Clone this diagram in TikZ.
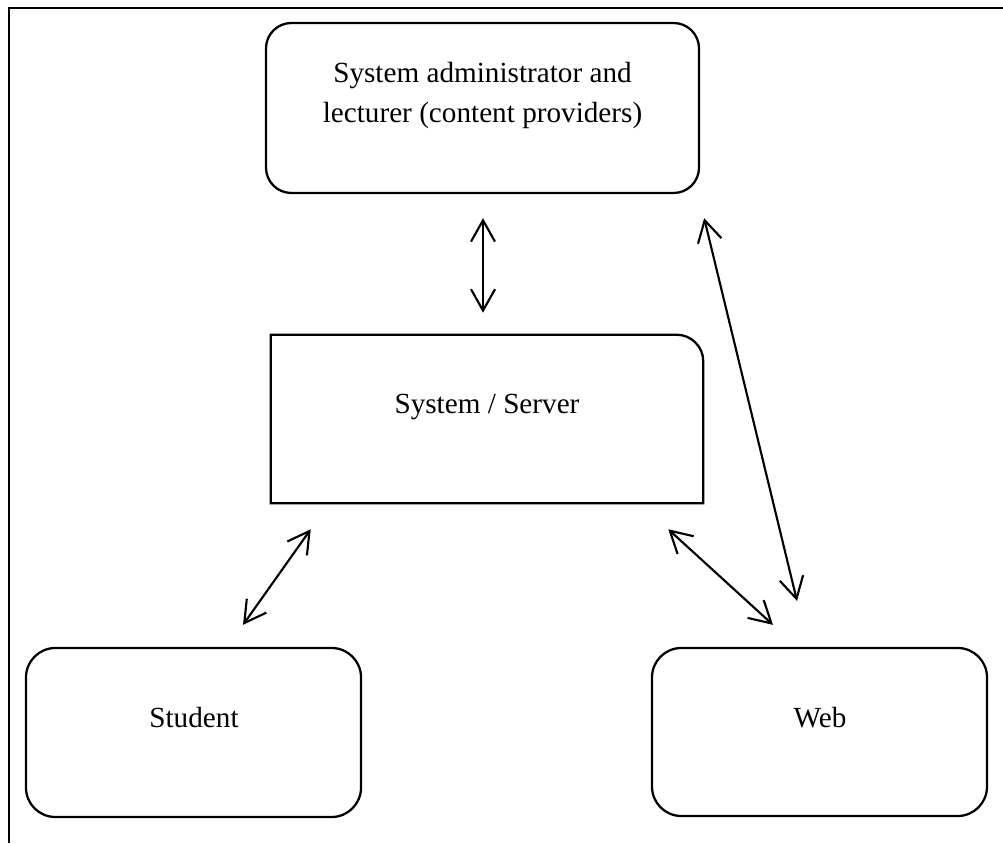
\documentclass[tikz,border=0pt]{standalone}
\usepackage{fontspec}
\setmainfont{Liberation Serif}
\usetikzlibrary{arrows.meta,calc}
\begin{document}
\begin{tikzpicture}[x=0.75pt,y=0.75pt,
  box/.style={draw=black,line width=1.7pt,minimum width=#1,inner sep=0pt},
  lbl/.style={font=\fontsize{21.9}{30}\selectfont,inner sep=0pt,align=center},
  arr/.style={line width=1.6pt,{Straight Barb[length=16pt,width=18pt]}-{Straight Barb[length=16pt,width=18pt]}},
  frame/.style={line width=1.1pt,draw=black}]
\useasboundingbox (0,0) rectangle (1003,843);
% frame
\coordinate (ftl) at (9,835);
\coordinate (ftr) at (1003,835);
\coordinate (fbl) at (9,0);
\draw[frame] (ftr) -- (ftl) -- (fbl);
% boxes
\node[box=324.75pt,minimum height=127.5pt,rounded corners=19pt] (admin) at (482.5,735) {};
\node[inner sep=0pt,minimum width=324pt,minimum height=126pt] (srv) at (487,424) {};
\draw[line width=1.7pt] (srv.south west) -- (srv.north west) -- ([xshift=-20pt]srv.north east)
  arc[start angle=90,end angle=0,radius=20pt] -- (srv.south east) -- cycle;
\node[box=251.25pt,minimum height=126.75pt,rounded corners=22pt] (student) at (193.5,110.5) {};
\node[box=251.25pt,minimum height=126pt,rounded corners=22pt] (web) at (819.5,111) {};
% labels
\node[lbl,anchor=base] (admint) at (482.5,720) {System administrator and\\lecturer (content providers)};
\node[lbl,anchor=base] (srvt) at (487,429) {System / Server};
\node[lbl,anchor=base] (studentt) at (194,116) {Student};
\node[lbl,anchor=base] (webt) at (820,116) {Web};
% connectors
\draw[arr] ($(admin.south)+(0.5,-24)$) -- ($(srv.north)+(-4,22)$);
\draw[arr] ($(admin.south east)+(4,-24)$) -- ($(web.north)+(-22.5,46)$);
\draw[arr] ($(srv.south east)+(-35,-26)$) -- ($(web.north)+(-46.5,22)$);
\draw[arr] ($(srv.south west)+(40,-26)$) -- ($(student.north)+(49.5,22)$);
\end{tikzpicture}
\end{document}
